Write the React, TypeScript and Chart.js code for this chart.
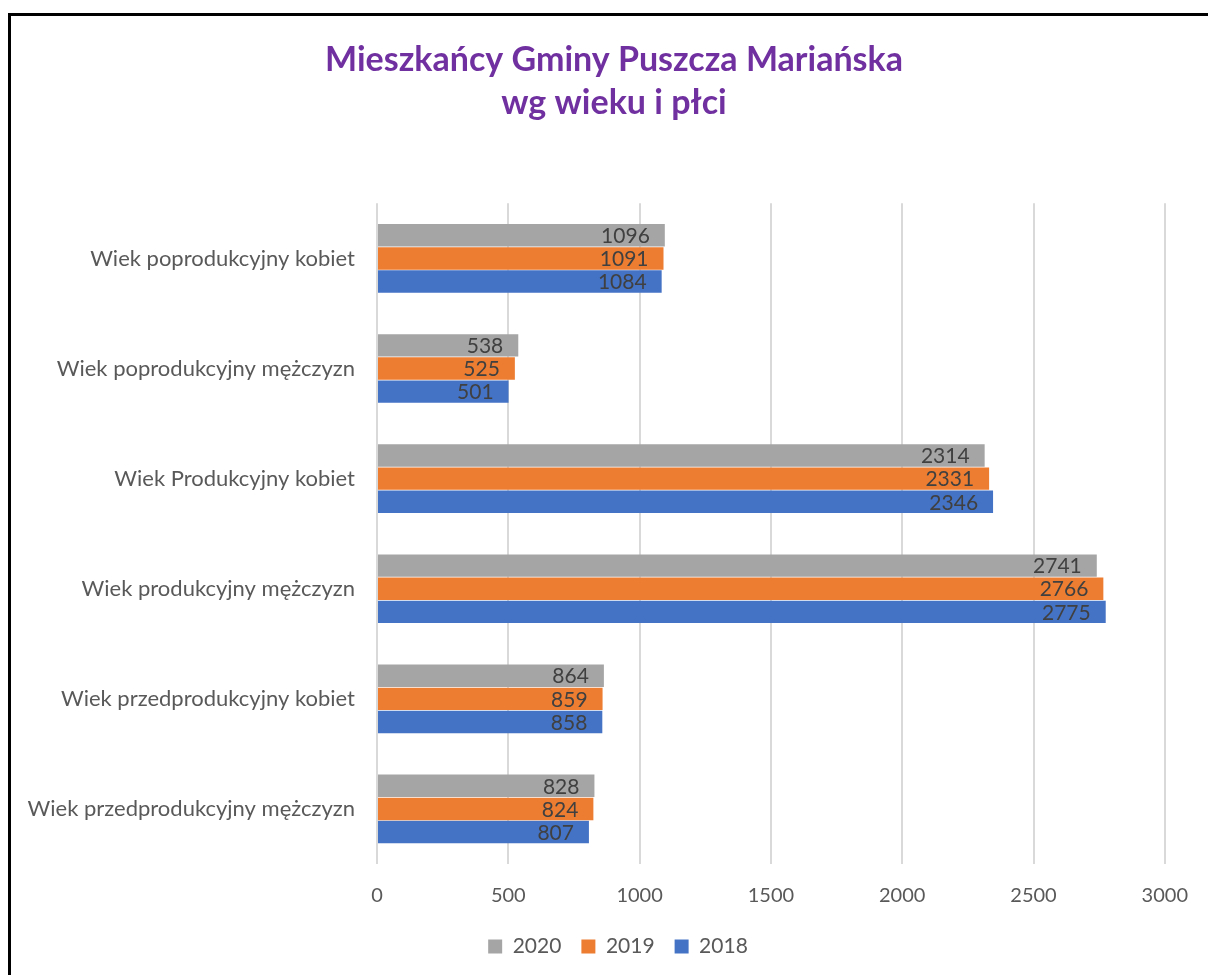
import React, { useEffect, useRef } from "react";
import { Chart, registerables } from "chart.js";

Chart.register(...registerables);

const categories = [
  "Wiek poprodukcyjny kobiet",
  "Wiek poprodukcyjny mężczyzn",
  "Wiek Produkcyjny kobiet",
  "Wiek produkcyjny mężczyzn",
  "Wiek przedprodukcyjny kobiet",
  "Wiek przedprodukcyjny mężczyzn",
];
const values2020 = [1096, 538, 2314, 2741, 864, 828];
const values2019 = [1091, 525, 2331, 2766, 859, 824];
const values2018 = [1084, 501, 2346, 2775, 858, 807];
const seriesLabels = ["2020", "2019", "2018"];
const titleLines = ["Mieszkańcy Gminy Puszcza Mariańska", "wg wieku i płci"];

const FONT = "Lato, 'Open Sans', sans-serif";

const dataLabelPlugin = {
  id: "dataLabels",
  afterLayout(chart: any) {
    if (chart.titleBlock) {
      chart.titleBlock.left += 21;
      chart.titleBlock.right += 21;
    }
    if (chart.legend) {
      chart.legend.left += 25;
      chart.legend.right += 25;
    }
  },
  afterDatasetsDraw(chart: any) {
    const ctx = chart.ctx;
    ctx.save();
    ctx.font = `21px ${FONT}`;
    ctx.fillStyle = "#404040";
    ctx.textAlign = "right";
    ctx.textBaseline = "middle";
    chart.data.datasets.forEach((ds: any, i: number) => {
      const meta = chart.getDatasetMeta(i);
      meta.data.forEach((el: any, j: number) => {
        ctx.fillText(String(ds.data[j]), el.x - 15, el.y + 1);
      });
    });
    ctx.restore();
  },
};

export default function App() {
  const ref = useRef<HTMLCanvasElement>(null);
  useEffect(() => {
    if (!ref.current) return;
    const chart = new Chart(ref.current, {
      type: "bar",
      data: {
        labels: categories,
        datasets: [
          { label: seriesLabels[0], data: values2020, backgroundColor: "#A5A5A5" },
          { label: seriesLabels[1], data: values2019, backgroundColor: "#ED7D31" },
          { label: seriesLabels[2], data: values2018, backgroundColor: "#4472C4" },
        ],
      },
      options: {
        indexAxis: "y",
        responsive: false,
        animation: false,
        devicePixelRatio: 1,
        datasets: { bar: { categoryPercentage: 0.63, barPercentage: 0.97 } },
        layout: { padding: { left: 10, right: 43, top: 0, bottom: 8 } },
        scales: {
          x: {
            min: 0,
            max: 3000,
            ticks: {
              stepSize: 500,
              color: "#595959",
              font: { family: FONT, size: 20 },
              padding: 20,
              callback: (v: any) => String(v),
            },
            grid: { color: "#d9d9d9", lineWidth: 2, drawTicks: false },
            border: { display: false },
            afterFit: (s: any) => { s.height = 52; },
          },
          y: {
            ticks: { color: "#595959", font: { family: FONT, size: 22 }, padding: 22 },
            grid: { display: false, drawTicks: false },
            border: { display: false },
            afterFit: (s: any) => { s.width = 356; },
          },
        },
        plugins: {
          title: {
            display: true,
            text: titleLines,
            color: "#7030A0",
            font: { family: FONT, size: 34, weight: "bold", lineHeight: 1.27 },
            padding: { top: 22, bottom: 79 },
          },
          legend: {
            position: "bottom",
            labels: {
              boxWidth: 14,
              boxHeight: 14,
              color: "#595959",
              font: { family: FONT, size: 21 },
              padding: 20,
            },
          },
          tooltip: { enabled: false },
        },
      },
      plugins: [dataLabelPlugin],
    } as any);
    return () => chart.destroy();
  }, []);
  return (
    <div
      style={{
        position: "fixed",
        left: 8,
        top: 13,
        width: 1200,
        height: 962,
        borderLeft: "3px solid #000",
        borderTop: "3px solid #000",
        background: "#fff",
      }}
    >
      <canvas ref={ref} width={1197} height={959} style={{ display: "block" }} />
    </div>
  );
}
